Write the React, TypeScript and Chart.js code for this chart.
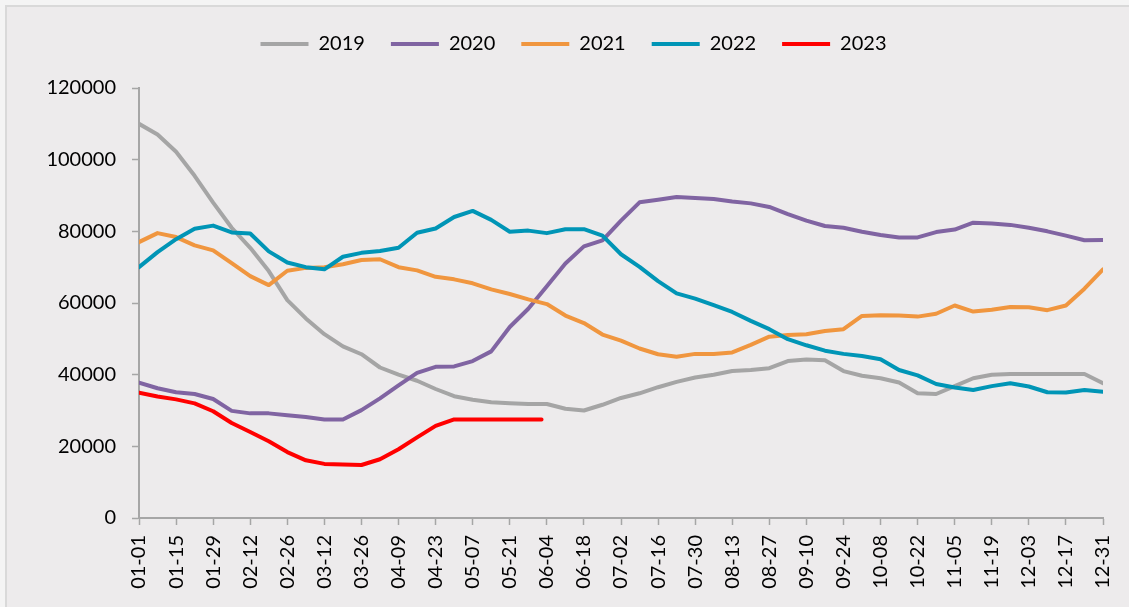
import React, { useEffect, useRef } from 'react';
import { Chart, registerables } from 'chart.js';

Chart.register(...registerables);

const FONT = "Lato, 'DejaVu Sans', sans-serif";

// day-of-year sample positions (0 = 01-01)
const days = [0, 7, 14, 21, 28, 35, 42, 49, 56, 63, 70, 77, 84, 91, 98, 105, 112, 119, 126, 133, 140, 147, 154, 161, 168, 175, 182, 189, 196, 203, 210, 217, 224, 231, 238, 245, 252, 259, 266, 273, 280, 287, 294, 301, 308, 315, 322, 329, 336, 343, 350, 357, 364];
const days2023 = [0, 7, 14, 21, 28, 35, 42, 49, 56, 63, 70, 77, 84, 91, 98, 105, 112, 119, 126, 133, 140, 147, 152];

const tickDays = [0, 14, 28, 42, 56, 70, 84, 98, 112, 126, 140, 154, 168, 182, 196, 210, 224, 238, 252, 266, 280, 294, 308, 322, 336, 350, 364];
const tickLabels = ['01-01', '01-15', '01-29', '02-12', '02-26', '03-12', '03-26', '04-09', '04-23', '05-07', '05-21', '06-04', '06-18', '07-02', '07-16', '07-30', '08-13', '08-27', '09-10', '09-24', '10-08', '10-22', '11-05', '11-19', '12-03', '12-17', '12-31'];

const seriesNames = ['2019', '2020', '2021', '2022', '2023'];

const s2019 = [110000, 107000, 102200, 95500, 88000, 81000, 75400, 68900, 60800, 55700, 51300, 47900, 45700, 42000, 40000, 38300, 36000, 34000, 33000, 32300, 32000, 31800, 31800, 30500, 30000, 31600, 33500, 34800, 36500, 38000, 39200, 40000, 41000, 41300, 41800, 43800, 44200, 44000, 41000, 39700, 39000, 37800, 34800, 34600, 36800, 39000, 40000, 40200, 40200, 40200, 40200, 40200, 37600];
const s2020 = [37800, 36200, 35100, 34600, 33200, 29900, 29200, 29200, 28700, 28200, 27500, 27500, 30100, 33400, 37000, 40500, 42200, 42300, 43800, 46500, 53300, 58400, 64700, 71000, 75800, 77500, 83000, 88100, 88800, 89600, 89300, 89000, 88300, 87800, 86800, 84800, 83000, 81500, 81000, 79900, 79000, 78300, 78300, 79800, 80500, 82400, 82200, 81800, 81000, 80000, 78800, 77500, 77600];
const s2021 = [77000, 79500, 78400, 76100, 74700, 71100, 67500, 65000, 69000, 69800, 70000, 70800, 72000, 72200, 70000, 69100, 67300, 66600, 65500, 63800, 62500, 61000, 59700, 56500, 54400, 51200, 49500, 47300, 45700, 45000, 45800, 45800, 46200, 48300, 50600, 51100, 51300, 52200, 52700, 56400, 56600, 56500, 56200, 57000, 59300, 57600, 58100, 58900, 58800, 58000, 59300, 64000, 69400];
const s2022 = [70000, 74200, 77800, 80700, 81600, 79700, 79400, 74400, 71300, 70000, 69400, 72900, 74000, 74500, 75400, 79600, 80800, 84000, 85700, 83200, 79900, 80200, 79500, 80600, 80600, 78800, 73600, 70100, 66100, 62700, 61200, 59400, 57500, 55000, 52700, 49900, 48200, 46700, 45800, 45200, 44300, 41300, 39800, 37400, 36400, 35700, 36800, 37600, 36700, 35100, 35000, 35700, 35200];
const s2023 = [35000, 33900, 33100, 32000, 29800, 26500, 24000, 21400, 18400, 16100, 15100, 14900, 14800, 16400, 19200, 22500, 25700, 27500, 27500, 27500, 27500, 27500, 27500];

const colors = ['#A5A5A5', '#8064A2', '#F0963F', '#0095B6', '#FF0000'];

export default function App() {
  const ref = useRef<HTMLCanvasElement>(null);

  useEffect(() => {
    const canvas = ref.current;
    if (!canvas) return;
    const mk = (i: number, xs: number[], ys: number[]) => ({
      label: seriesNames[i],
      data: xs.map((x, k) => ({ x, y: ys[k] })),
      borderColor: colors[i],
      backgroundColor: colors[i],
      borderWidth: 4,
      pointRadius: 0,
      pointHoverRadius: 0,
      pointStyle: 'line',
      tension: 0,
      borderCapStyle: 'round',
      borderJoinStyle: 'round',
      fill: false,
      order: 5 - i,
    });
    const axisColor = '#A6A6A6';
    const chart = new Chart(canvas, {
      type: 'line',
      data: {
        datasets: [
          mk(0, days, s2019),
          mk(1, days, s2020),
          mk(2, days, s2021),
          mk(3, days, s2022),
          mk(4, days2023, s2023),
        ] as any,
      },
      options: {
        responsive: false,
        animation: false,
        devicePixelRatio: 1,
        events: [],
        layout: { padding: { left: 44, right: 26, top: 8, bottom: 0 } },
        plugins: {
          legend: {
            position: 'top',
            labels: {
              usePointStyle: true,
              pointStyle: 'line',
              pointStyleWidth: 48,
              padding: 26,
              color: '#000',
              font: { family: FONT, size: 20 },
              sort: (a: any, b: any) => a.datasetIndex - b.datasetIndex,
            },
          },
          title: {
            display: true,
            text: '',
            position: 'top',
            weight: 500,
            font: { size: 12, lineHeight: 1 },
            padding: { top: 6, bottom: 6 },
          } as any,
          tooltip: { enabled: false },
        },
        scales: {
          x: {
            type: 'linear',
            min: 0,
            max: 364,
            afterBuildTicks: (s: any) => {
              s.ticks = tickDays.map((v) => ({ value: v }));
            },
            afterFit: (s: any) => {
              s.height = 89;
              s.paddingLeft = 0;
              s.paddingRight = 0;
            },
            ticks: {
              autoSkip: false,
              maxRotation: 90,
              minRotation: 90,
              padding: 10,
              color: '#000',
              font: { family: FONT, size: 20 },
              callback: (_v: any, i: number) => tickLabels[i],
            },
            grid: {
              display: true,
              drawOnChartArea: false,
              drawTicks: true,
              tickLength: 7,
              tickColor: axisColor,
              tickWidth: 1.5,
            },
            border: { display: true, color: axisColor, width: 2 },
          },
          y: {
            type: 'linear',
            min: 0,
            max: 120000,
            afterFit: (s: any) => {
              s.width = 95;
            },
            ticks: {
              stepSize: 20000,
              padding: 16,
              color: '#000',
              font: { family: FONT, size: 20 },
              callback: (v: any) => String(v),
            },
            grid: {
              display: true,
              drawOnChartArea: false,
              drawTicks: true,
              tickLength: 7,
              tickColor: axisColor,
              tickWidth: 1.5,
            },
            border: { display: true, color: axisColor, width: 2 },
          },
        },
      } as any,
    });
    return () => chart.destroy();
  }, []);

  return (
    <div style={{ position: 'fixed', left: 0, top: 0, width: 1129, height: 607, background: '#F4F4F4', overflow: 'hidden' }}>
      <div
        style={{
          position: 'absolute',
          left: 5,
          top: 5,
          width: 1140,
          height: 620,
          background: '#EDEBEC',
          borderLeft: '2px solid #D9D9D9',
          borderTop: '2px solid #D9D9D9',
        }}
      />
      <canvas ref={ref} width={1129} height={607} style={{ position: 'absolute', left: 0, top: 0 }} />
    </div>
  );
}
